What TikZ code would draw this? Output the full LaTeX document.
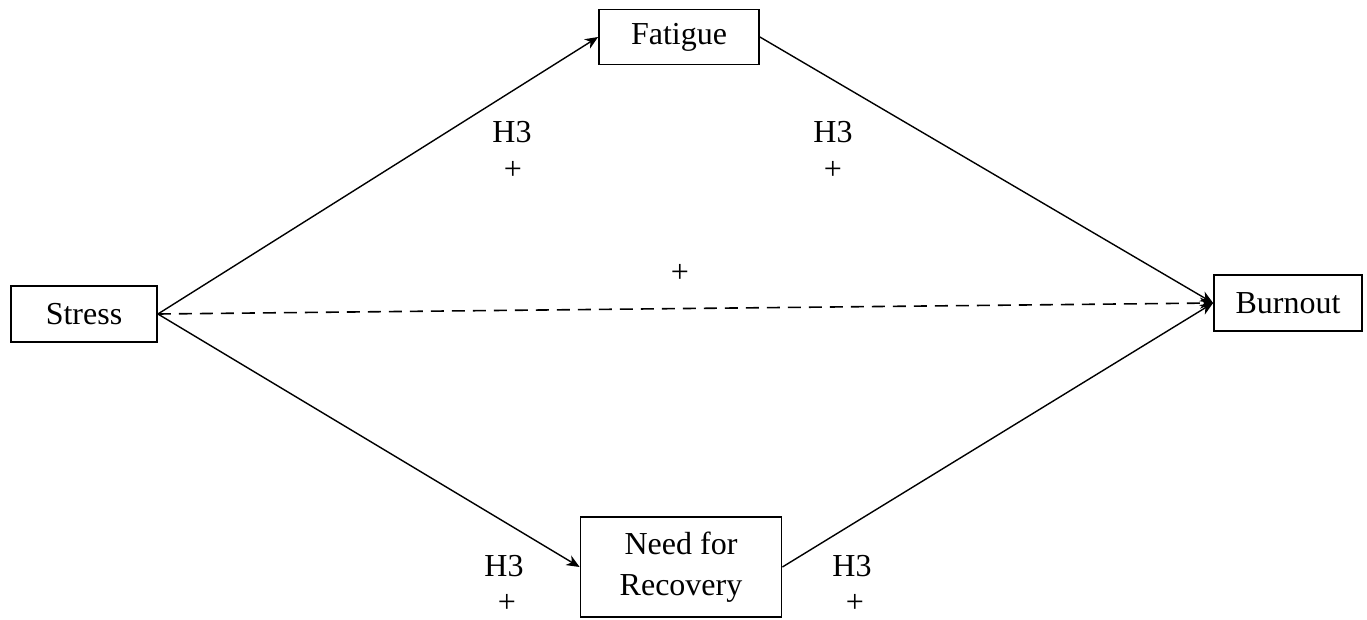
\documentclass[tikz,border=0pt]{standalone}
\usepackage{fontspec}
\setmainfont{Liberation Serif}
\usetikzlibrary{arrows.meta,positioning}

\begin{document}
\begin{tikzpicture}[
  x=1pt, y=-1pt,
  font=\fontsize{32}{41}\selectfont,
  >={Stealth[length=13pt,width=11pt,inset=4pt]},
  var/.style={draw, line width=1.8pt, align=center, inner sep=0pt},
  flow/.style={->, line width=1.4pt},
  direct/.style={->, line width=1.6pt, dash pattern=on 13pt off 8pt},
  tag/.style={inner sep=0pt, align=center}
]
  \useasboundingbox (0,0) rectangle (1367,619);

  \node[var, minimum width=146pt, minimum height=56pt] (stress) at (84,314) {Stress};
  \node[var, minimum width=160pt, minimum height=55pt] (fatigue) at (679,37) {Fatigue};
  \node[var, minimum width=148pt, minimum height=56pt] (burnout) at (1288,303) {Burnout};
  \node[var, minimum width=201pt, minimum height=100pt] (nfr) at (681,567) {Need for\\Recovery};

  \draw[flow] (stress.east) -- (fatigue.west);
  \draw[flow] (fatigue.east) -- (burnout.west);
  \draw[flow] (stress.east) -- (nfr.west);
  \draw[flow] (nfr.east) -- (burnout.west);
  \draw[direct] (stress.east) -- (burnout.west);

  % hypothesis labels
  \node[tag] (h1) at (512,132) {H3};
  \node[tag] (p1) at (513,170) {+};
  \node[tag] (h2) at (833,132) {H3};
  \node[tag] (p2) at (833,170) {+};
  \node[tag] (p0) at (680,273) {+};
  \node[tag] (h3) at (504,566) {H3};
  \node[tag] (p3) at (507,603) {+};
  \node[tag] (h4) at (852,566) {H3};
  \node[tag] (p4) at (855,603) {+};
\end{tikzpicture}
\end{document}
